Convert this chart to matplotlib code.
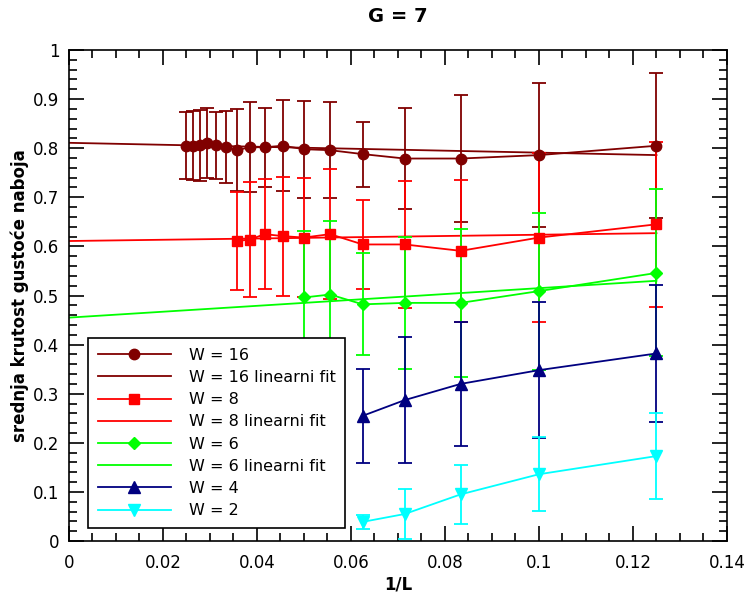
import numpy as np
import matplotlib
matplotlib.use('Agg')
import matplotlib.pyplot as plt
from matplotlib.ticker import MultipleLocator
from matplotlib.lines import Line2D

plt.rcParams['font.family'] = ['DejaVu Sans']

# system sizes, x = 1/L
L16 = np.array([40, 38, 36, 34, 32, 30, 28, 26, 24, 22, 20, 18, 16, 14, 12, 10, 8])
L8 = np.array([28, 26, 24, 22, 20, 18, 16, 14, 12, 10, 8])
L6 = np.array([20, 18, 16, 14, 12, 10, 8])
L4 = np.array([16, 14, 12, 10, 8])
L2 = np.array([16, 14, 12, 10, 8])

y16 = [0.805, 0.805, 0.806, 0.811, 0.806, 0.802, 0.796, 0.802, 0.802, 0.805,
       0.798, 0.796, 0.788, 0.779, 0.779, 0.786, 0.805]
e16 = [0.068, 0.070, 0.072, 0.071, 0.068, 0.073, 0.083, 0.092, 0.080, 0.093,
       0.099, 0.098, 0.066, 0.102, 0.130, 0.146, 0.148]

y8 = [0.611, 0.614, 0.625, 0.621, 0.618, 0.625, 0.604, 0.604, 0.591, 0.618, 0.645]
e8 = [0.100, 0.118, 0.112, 0.121, 0.122, 0.133, 0.090, 0.130, 0.144, 0.172, 0.168]

y6 = [0.496, 0.502, 0.482, 0.485, 0.485, 0.509, 0.546]
e6 = [0.136, 0.149, 0.104, 0.134, 0.151, 0.160, 0.170]

y4 = [0.255, 0.287, 0.320, 0.348, 0.382]
e4 = [0.096, 0.129, 0.126, 0.138, 0.139]

y2 = [0.039, 0.055, 0.095, 0.136, 0.173]
e2 = [0.015, 0.050, 0.060, 0.075, 0.087]

# linear fits: (intercept, slope)
fit16 = (0.811, -0.20)
fit8 = (0.611, 0.128)
fit6 = (0.455, 0.60)

fig = plt.figure(figsize=(7.45, 5.99), dpi=100)
ax = fig.add_axes([0.0926, 0.0968, 0.8832, 0.8197])

xfit = np.linspace(0, 1 / 8, 2)
lw = 1.3

series = [
    ('W = 16', L16, y16, e16, '#800000', 'o', 7.5, fit16),
    ('W = 8', L8, y8, e8, '#ff0000', 's', 7.0, fit8),
    ('W = 6', L6, y6, e6, '#00ff00', 'D', 6.5, fit6),
    ('W = 4', L4, y4, e4, '#000080', '^', 8.0, None),
    ('W = 2', L2, y2, e2, '#00ffff', 'v', 8.0, None),
]

handles = []
labels = []
for name, L, y, e, c, m, ms, fit in series:
    ax.errorbar(1 / L, y, yerr=e, color=c, marker=m, ms=ms, lw=lw,
                capsize=5, elinewidth=lw, capthick=lw)
    handles.append(Line2D([], [], color=c, marker=m, ms=ms, lw=lw))
    labels.append(name)
    if fit is not None:
        ax.plot(xfit, fit[0] + fit[1] * xfit, color=c, lw=lw)
        handles.append(Line2D([], [], color=c, lw=lw))
        labels.append(name + ' linearni fit')

ax.set_xlim(0, 0.14)
ax.set_ylim(0, 1)
ax.xaxis.set_major_locator(MultipleLocator(0.02))
ax.xaxis.set_minor_locator(MultipleLocator(0.005))
ax.yaxis.set_major_locator(MultipleLocator(0.1))
ax.yaxis.set_minor_locator(MultipleLocator(0.02))
ax.xaxis.set_major_formatter(plt.FuncFormatter(lambda v, p: f'{v:g}'))
ax.yaxis.set_major_formatter(plt.FuncFormatter(lambda v, p: f'{v:g}'))
ax.tick_params(which='both', direction='in', top=True, right=True, width=1.2, labelsize=12)
ax.tick_params(axis='x', which='major', length=11, pad=9)
ax.tick_params(axis='y', which='major', length=11, pad=7)
ax.tick_params(which='minor', length=6)
for s in ax.spines.values():
    s.set_linewidth(1.2)

ax.set_title('G = 7', fontsize=14, fontweight='bold', pad=20)
ax.set_xlabel('1/L', fontsize=12, fontweight='bold', labelpad=3)
ax.set_ylabel('srednja krutost gustoće naboja', fontsize=12, fontweight='bold', labelpad=3)

leg = ax.legend(handles, labels, loc='upper left', bbox_to_anchor=(0.029, 0.413),
                borderaxespad=0, fontsize=11.5, handlelength=4.6, labelspacing=0.45,
                handletextpad=1.1, borderpad=0.6, fancybox=False, framealpha=1,
                edgecolor='black')
leg.get_frame().set_linewidth(1.2)

fig.savefig('out.png', dpi=100)
